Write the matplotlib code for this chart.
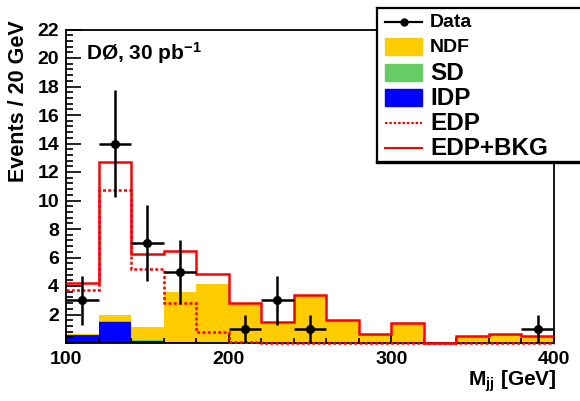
import numpy as np
import matplotlib
matplotlib.use('Agg')
from matplotlib import pyplot as plt
from matplotlib.ticker import MultipleLocator
from matplotlib.patches import Rectangle
from matplotlib.lines import Line2D

plt.rcParams['font.family'] = 'Liberation Sans'
plt.rcParams['font.weight'] = 'bold'
plt.rcParams['mathtext.fontset'] = 'custom'
plt.rcParams['mathtext.rm'] = 'Liberation Sans:bold'
plt.rcParams['mathtext.it'] = 'Liberation Sans:bold'
plt.rcParams['mathtext.bf'] = 'Liberation Sans:bold'

# 20 GeV bins, 100-400 GeV
binEdges = np.arange(100, 401, 20)

# stacked backgrounds (own contribution per bin)
idpValues = [0.56, 1.5, 0.15, 0.05, 0.02, 0, 0, 0, 0, 0, 0, 0, 0, 0, 0]
sdValues = [0.02, 0.02, 0.03, 0.03, 0.03, 0.02, 0.01, 0, 0, 0, 0, 0, 0, 0, 0]
ndfValues = [0.08, 0.46, 0.95, 3.52, 4.09, 2.76, 1.49, 3.35, 1.61, 0.61, 1.43, 0, 0.51, 0.61, 0.49]

edpValues = [3.72, 10.77, 5.17, 2.83, 0.8, 0.05, 0, 0, 0, 0, 0, 0, 0, 0, 0]
edpBkgValues = [4.23, 12.7, 6.25, 6.43, 4.87, 2.83, 1.5, 3.35, 1.61, 0.61, 1.43, 0, 0.51, 0.61, 0.49]

dataX = [110, 130, 150, 170, 210, 230, 250, 390]
dataY = [3, 14, 7, 5, 1, 3, 1, 1]
dataErr = [1.73, 3.74, 2.65, 2.24, 1.0, 1.73, 1.0, 1.0]

yellow = '#ffcc00'
green = '#66cc66'
blue = '#0000ff'
red = '#ff0000'

fig = plt.figure(figsize=(5.8, 4.01), dpi=100)
ax = fig.add_axes([66/580, 1 - 343/401, (554 - 66)/580, (343 - 29.5)/401])

idp = np.array(idpValues)
sd = np.array(sdValues)
ndf = np.array(ndfValues)
ax.stairs(idp + sd + ndf, binEdges, baseline=idp + sd, fill=True, color=yellow, zorder=1)
ax.stairs(idp + sd, binEdges, baseline=idp, fill=True, color=green, zorder=1)
ax.stairs(idp, binEdges, baseline=0, fill=True, color=blue, zorder=1)

ax.stairs(edpValues, binEdges, baseline=None, color=red, linewidth=1.8,
          linestyle=(0, (1.2, 0.9)), zorder=3, clip_on=False)
ax.stairs(edpBkgValues, binEdges, baseline=None, color=red, linewidth=1.8,
          zorder=3, clip_on=False)

ax.errorbar(dataX, dataY, yerr=dataErr, xerr=10, fmt='o', color='black',
            markersize=5.5, elinewidth=1.8, capsize=0, zorder=5)

ax.set_xlim(100, 400)
ax.set_ylim(0, 22)
ax.xaxis.set_major_locator(MultipleLocator(100))
ax.xaxis.set_minor_locator(MultipleLocator(20))
ax.yaxis.set_minor_locator(MultipleLocator(0.4))
ax.set_yticks(np.arange(2, 23, 2))
ax.tick_params(which='both', direction='in', top=False, right=False, width=1.2,
               labelsize=14)
ax.tick_params(axis='y', which='major', length=10.5, pad=5)
ax.tick_params(axis='y', which='minor', length=5.3)
ax.tick_params(axis='x', which='major', length=6.5, pad=6)
ax.tick_params(axis='x', which='minor', length=3.3)
for s in ax.spines.values():
    s.set_linewidth(1.3)

ax.text(0.04, 0.925, 'DØ, 30 pb$^{-1}$', transform=ax.transAxes,
        fontsize=15, ha='left', va='center')

fig.text(19/580, 1 - 20/401, 'Events / 20 GeV', rotation=90, ha='center',
         va='top', fontsize=15.5)
fig.text(557/580, 1 - 381/401, 'M$_{\\mathrm{jj}}$ [GeV]', ha='right',
         va='center', fontsize=15)

# legend box, drawn in pixel units of its own axes
lax = fig.add_axes([377/580, 1 - 162/401, 206/580, 154/401])
lax.set_xlim(0, 206)
lax.set_ylim(154, 0)
lax.set_xticks([])
lax.set_yticks([])
for s in lax.spines.values():
    s.set_linewidth(1.6)
lax.spines['bottom'].set_linewidth(2.4)
lax.set_facecolor('white')

rowY = [14, 39, 65, 90, 115, 140]
labels = ['Data', 'NDF', 'SD', 'IDP', 'EDP', 'EDP+BKG']
sizes = [14, 14, 17.5, 17.5, 17.5, 17.5]
lax.add_line(Line2D([8, 45], [rowY[0], rowY[0]], color='black', linewidth=1.6))
lax.plot([27], [rowY[0]], 'o', color='black', markersize=5)
for y, c in zip(rowY[1:4], [yellow, green, blue]):
    lax.add_patch(Rectangle((8, y - 8.5), 37, 17, color=c))
lax.add_line(Line2D([8, 45], [rowY[4], rowY[4]], color=red, linewidth=1.5,
                    linestyle=(0, (1.2, 0.9))))
lax.add_line(Line2D([8, 45], [rowY[5], rowY[5]], color=red, linewidth=1.5))
for y, t, fs in zip(rowY, labels, sizes):
    lax.text(53, y + 1, t, fontsize=fs, ha='left', va='center')

fig.savefig('out.png', dpi=100)
